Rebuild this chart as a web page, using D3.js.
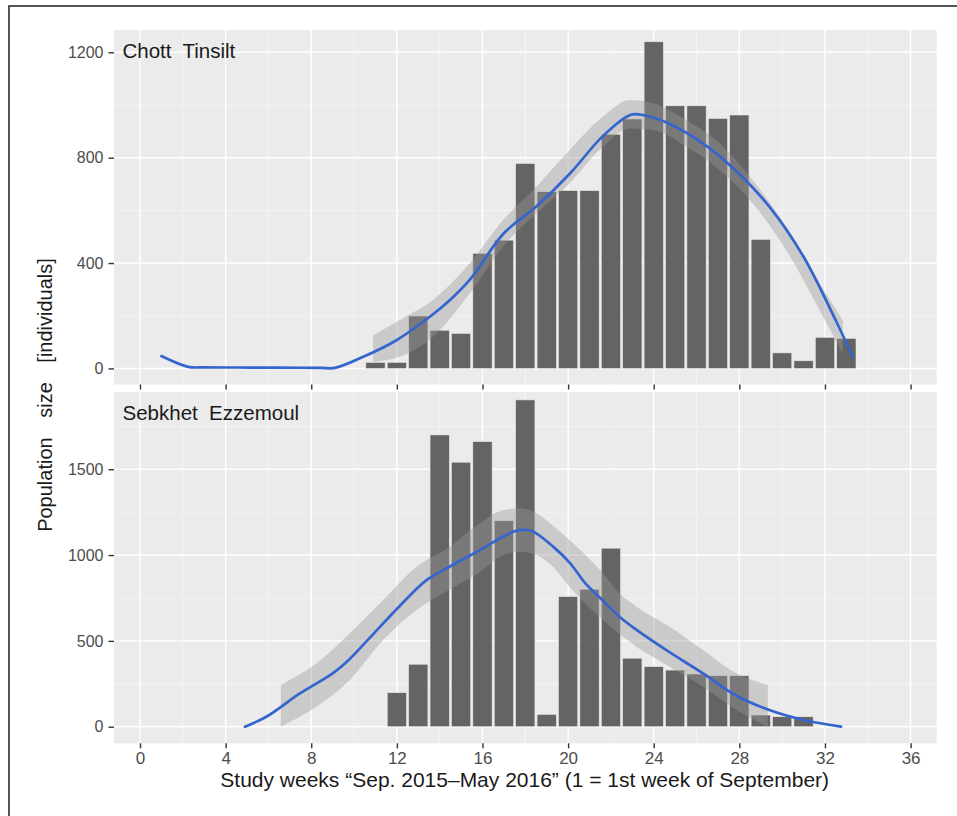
<!DOCTYPE html>
<html>
<head>
<meta charset="utf-8">
<script src="https://cdn.jsdelivr.net/npm/d3@7"></script>
<style>
  body { margin: 0; background: #ffffff; }
  svg { display: block; }
  text { font-family: "Liberation Sans", Arial, Helvetica, sans-serif; }
</style>
</head>
<body>
<svg id="chart" width="957" height="816"></svg>
<script>
// ---- Data -------------------------------------------------------------
const xTickValues = [0, 4, 8, 12, 16, 20, 24, 28, 32, 36];
const xMinorValues = [2, 6, 10, 14, 18, 22, 26, 30, 34];

// Chott Tinsilt: weekly counts
const tinsiltWeeks  = [11, 12, 13, 14, 15, 16, 17, 18, 19, 20, 21, 22, 23, 24, 25, 26, 27, 28, 29, 30, 31, 32, 33];
const tinsiltCounts = [23, 23, 199, 145, 133, 437, 487, 778, 671, 675, 675, 889, 947, 1240, 997, 997, 949, 962, 490, 59, 29, 118, 114];
// smoothed trend
const tinsiltFitWeeks  = [1.0, 2.25, 3.0, 4.5, 6.0, 7.5, 8.5, 9.1, 10.43, 11.98, 13.54, 14.47, 15.4, 17.0, 18.5, 20.1, 21.6, 22.9, 23.5, 24.7, 26.3, 27.8, 29.4, 31.0, 32.5, 33.3];
const tinsiltFitValues = [47, 6, 4, 3.5, 3, 2.5, 2, 2, 44, 107, 196, 259, 336, 513, 614, 741, 880, 962, 962, 930, 854, 753, 614, 424, 183, 44];
// confidence band
const tinsiltBandWeeks = [10.89, 12.14, 13.69, 15.41, 16.96, 18.52, 20.07, 21.63, 22.88, 23.96, 25.52, 27.08, 28.62, 30.19, 31.75, 32.83];
const tinsiltBandUpper = [125, 184, 260, 399, 563, 690, 829, 956, 1019, 1007, 943, 855, 715, 538, 323, 183];
const tinsiltBandLower = [25, 44, 120, 285, 462, 589, 703, 842, 911, 905, 842, 753, 627, 449, 221, 57];
const tinsiltYTicks = [0, 400, 800, 1200];
const tinsiltYMinor = [200, 600, 1000];

// Sebkhet Ezzemoul: weekly counts
const ezzemoulWeeks  = [12, 13, 14, 15, 16, 17, 18, 19, 20, 21, 22, 23, 24, 25, 26, 27, 28, 29, 30, 31];
const ezzemoulCounts = [198, 364, 1700, 1541, 1661, 1200, 1904, 72, 758, 801, 1040, 399, 350, 330, 307, 297, 297, 68, 58, 58];
// smoothed trend
const ezzemoulFitWeeks  = [4.9, 5.9, 7.47, 9.0, 9.8, 10.6, 12.1, 13.4, 14.5, 15.9, 17.0, 17.7, 18.3, 19.3, 20.1, 20.8, 21.6, 22.4, 23.2, 24.7, 26.3, 27.8, 29.4, 31.0, 32.75];
const ezzemoulFitValues = [0, 58, 194, 311, 395, 500, 699, 855, 935, 1030, 1110, 1145, 1140, 1049, 952, 836, 738, 641, 564, 437, 311, 185, 97, 39, 0];
// confidence band
const ezzemoulBandWeeks = [6.58, 8.25, 9.8, 11.36, 12.92, 14.47, 15.87, 16.96, 17.74, 18.52, 19.3, 20.07, 21.63, 22.4, 23.19, 24.74, 26.3, 27.86, 29.33];
const ezzemoulBandUpper = [243, 369, 544, 738, 932, 1049, 1185, 1263, 1272, 1243, 1170, 1088, 894, 777, 699, 583, 447, 311, 243];
const ezzemoulBandLower = [0, 117, 272, 505, 680, 800, 900, 1000, 1020, 1000, 932, 816, 622, 540, 466, 350, 233, 97, 0];
const ezzemoulYTicks = [0, 500, 1000, 1500];
const ezzemoulYMinor = [250, 750, 1250, 1750];

const siteNames = ["Chott  Tinsilt", "Sebkhet  Ezzemoul"];
const xTitle = "Study weeks \u201cSep. 2015\u2013May 2016\u201d (1 = 1st week of September)";
const yTitle = "Population size [individuals]";

// ---- Layout -----------------------------------------------------------
const svg = d3.select("#chart");
const panelLeft = 114, panelRight = 936.7;

const x = d3.scaleLinear().domain([-1.215, 37.22]).range([panelLeft, panelRight]);

const panels = [
  {
    name: siteNames[0], top: 30, bottom: 384.5, yDomain: [-61, 1284.7],
    weeks: tinsiltWeeks, counts: tinsiltCounts,
    fitW: tinsiltFitWeeks, fitV: tinsiltFitValues,
    bandW: tinsiltBandWeeks, bandU: tinsiltBandUpper, bandL: tinsiltBandLower,
    yTicks: tinsiltYTicks, yMinor: tinsiltYMinor, labelY: 58
  },
  {
    name: siteNames[1], top: 392, bottom: 743.3, yDomain: [-96.7, 1950],
    weeks: ezzemoulWeeks, counts: ezzemoulCounts,
    fitW: ezzemoulFitWeeks, fitV: ezzemoulFitValues,
    bandW: ezzemoulBandWeeks, bandU: ezzemoulBandUpper, bandL: ezzemoulBandLower,
    yTicks: ezzemoulYTicks, yMinor: ezzemoulYMinor, labelY: 420
  }
];

// Outer frame
svg.append("rect").attr("x", 9).attr("y", 6).attr("width", 980).attr("height", 840)
  .attr("fill", "none").attr("stroke", "#2b2b2b").attr("stroke-width", 1.6);

panels.forEach((p, i) => {
  const y = d3.scaleLinear().domain(p.yDomain).range([p.bottom, p.top]);
  const g = svg.append("g");
  const clipId = "clip" + i;
  svg.append("clipPath").attr("id", clipId).append("rect")
    .attr("x", panelLeft).attr("y", p.top)
    .attr("width", panelRight - panelLeft).attr("height", p.bottom - p.top);

  g.append("rect").attr("x", panelLeft).attr("y", p.top)
    .attr("width", panelRight - panelLeft).attr("height", p.bottom - p.top)
    .attr("fill", "#ebebeb");

  // minor grid
  g.selectAll(".vminor").data(xMinorValues).join("line")
    .attr("x1", d => x(d)).attr("x2", d => x(d)).attr("y1", p.top).attr("y2", p.bottom)
    .attr("stroke", "#f7f7f7").attr("stroke-width", 0.7);
  g.selectAll(".hminor").data(p.yMinor).join("line")
    .attr("x1", panelLeft).attr("x2", panelRight).attr("y1", d => y(d)).attr("y2", d => y(d))
    .attr("stroke", "#f7f7f7").attr("stroke-width", 0.7);
  // major grid
  g.selectAll(".vmajor").data(xTickValues).join("line")
    .attr("x1", d => x(d)).attr("x2", d => x(d)).attr("y1", p.top).attr("y2", p.bottom)
    .attr("stroke", "#ffffff").attr("stroke-width", 1.4);
  g.selectAll(".hmajor").data(p.yTicks).join("line")
    .attr("x1", panelLeft).attr("x2", panelRight).attr("y1", d => y(d)).attr("y2", d => y(d))
    .attr("stroke", "#ffffff").attr("stroke-width", 1.4);

  const plot = g.append("g").attr("clip-path", `url(#${clipId})`);

  // bars
  plot.selectAll(".bar").data(p.weeks.map((w, k) => ({ w, v: p.counts[k] }))).join("rect")
    .attr("x", d => x(d.w - 0.45))
    .attr("width", d => x(d.w + 0.45) - x(d.w - 0.45))
    .attr("y", d => y(d.v))
    .attr("height", d => y(0) - y(d.v))
    .attr("fill", "#646464")
    .attr("stroke", "#efe4de").attr("stroke-width", 0.6);

  // confidence band
  const band = p.bandW.map((w, k) => ({ w, lo: p.bandL[k], hi: p.bandU[k] }));
  plot.append("path").datum(band)
    .attr("d", d3.area().x(d => x(d.w)).y0(d => y(d.lo)).y1(d => y(d.hi)).curve(d3.curveMonotoneX))
    .attr("fill", "#999999").attr("fill-opacity", 0.4);

  // smoothed trend
  const fit = p.fitW.map((w, k) => ({ w, v: p.fitV[k] }));
  plot.append("path").datum(fit)
    .attr("d", d3.line().x(d => x(d.w)).y(d => y(d.v)).curve(d3.curveCatmullRom.alpha(0.5)))
    .attr("fill", "none").attr("stroke", "#3465cf").attr("stroke-width", 2.7)
    .attr("stroke-linejoin", "round").attr("stroke-linecap", "round");

  // site label
  g.append("text").attr("x", 122.5).attr("y", p.labelY)
    .attr("font-size", 20.5).attr("fill", "#1a1a1a").attr("xml:space", "preserve")
    .style("white-space", "pre")
    .text(p.name);

  // y axis
  const yAxis = d3.axisLeft(y).tickValues(p.yTicks).tickFormat(d3.format("d")).tickSize(5.5).tickPadding(5);
  const ya = svg.append("g").attr("transform", `translate(${panelLeft},0)`).call(yAxis);
  ya.select(".domain").remove();
  ya.selectAll(".tick line").attr("stroke", "#333333").attr("stroke-width", 1.4);
  ya.selectAll(".tick text").attr("font-size", 16).attr("fill", "#4d4d4d")
    .style("font-family", "'Liberation Sans', Arial, sans-serif");

  // x axis ticks below each panel
  const xAxis = d3.axisBottom(x).tickValues(xTickValues).tickFormat(d3.format("d")).tickSize(5).tickPadding(4);
  const xa = svg.append("g").attr("transform", `translate(0,${p.bottom})`).call(xAxis);
  xa.select(".domain").remove();
  xa.selectAll(".tick line").attr("stroke", "#333333").attr("stroke-width", 1.4);
  if (i === 0) {
    xa.selectAll(".tick text").remove();
  } else {
    xa.selectAll(".tick text").attr("font-size", 17).attr("fill", "#4d4d4d")
      .style("font-family", "'Liberation Sans', Arial, sans-serif");
  }
});

// axis titles
svg.append("text").attr("x", 524.7).attr("y", 787)
  .attr("text-anchor", "middle").attr("font-size", 21).attr("fill", "#1a1a1a")
  .text(xTitle);

svg.append("text").attr("transform", "translate(52,395) rotate(-90)")
  .attr("text-anchor", "middle").attr("font-size", 20).attr("fill", "#1a1a1a")
  .attr("word-spacing", 14)
  .text(yTitle);
</script>
</body>
</html>
